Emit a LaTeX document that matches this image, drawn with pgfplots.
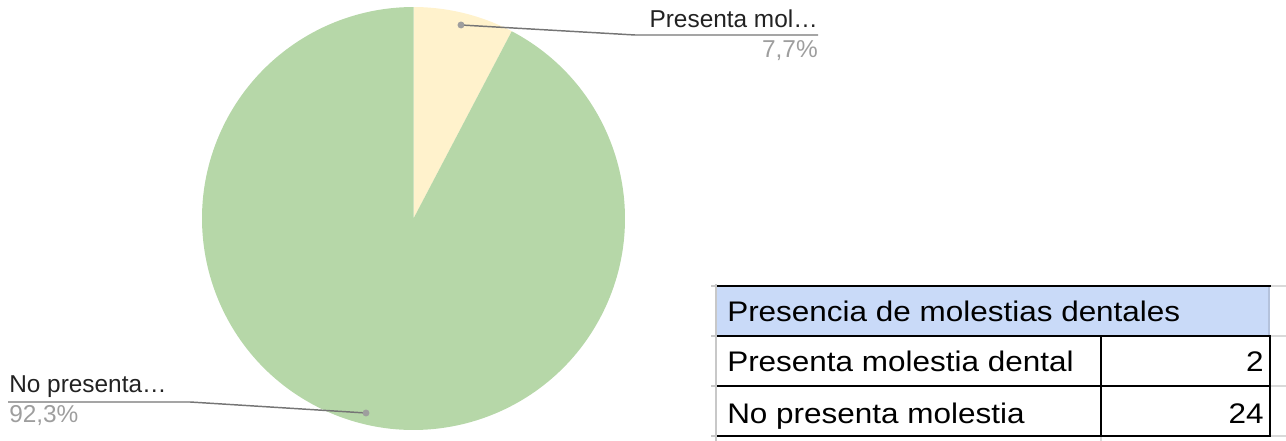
\documentclass[border=0pt]{standalone}
\usepackage{pgfplots}
\pgfplotsset{compat=1.18}
\usepackage{pgfplotstable}
\usepackage{fontspec}
\setmainfont{Liberation Sans}
\definecolor{sliceA}{HTML}{FFF2CC}
\definecolor{sliceB}{HTML}{B6D7A8}
\definecolor{leader}{HTML}{757575}
\definecolor{dotc}{HTML}{9E9E9E}
\definecolor{pct}{HTML}{9E9E9E}
\definecolor{lbl}{HTML}{222222}
\definecolor{hdr}{HTML}{C9DAF8}
\definecolor{hdrline}{HTML}{B4C2DC}
\definecolor{grid}{HTML}{D9D9D9}
\definecolor{lgrid}{HTML}{C8C8C8}
\pgfplotstableread{
label value
Presenta 2
No 24
}\piedata
\newcommand{\tf}[1]{\scalebox{1}[0.9]{#1}}
\begin{document}
\begin{tikzpicture}
\pgfplotstablegetelem{0}{value}\of\piedata \let\va\pgfplotsretval
\pgfplotstablegetelem{1}{value}\of\piedata \let\vb\pgfplotsretval
\pgfmathsetmacro{\tot}{\va+\vb}
\pgfmathsetmacro{\angA}{90-360*\va/\tot}
\pgfmathsetmacro{\angB}{\angA-360*\vb/\tot}
\begin{axis}[x=0.75pt,y=0.75pt,xmin=0,xmax=1286,ymin=0,ymax=441,
  hide axis,clip=false,scale only axis,name=main]
% pie
\fill[sliceA] (axis cs:413.5,222.5) -- ++(90:158.6pt) arc[start angle=90,end angle=\angA,radius=158.6pt] -- cycle;
\fill[sliceB] (axis cs:413.5,222.5) -- ++(\angA:158.6pt) arc[start angle=\angA,end angle=\angB,radius=158.6pt] -- cycle;
% leaders
\draw[leader,line width=1.1pt] (axis cs:461,416) -- (axis cs:635,406) -- (axis cs:818,406);
\fill[dotc] (axis cs:461,416) circle[radius=2.6pt];
\draw[leader,line width=1.1pt] (axis cs:366,28) -- (axis cs:190,39) -- (axis cs:8,39);
\fill[dotc] (axis cs:366,28) circle[radius=2.6pt];
\node[anchor=base east,inner sep=0pt,font=\fontsize{18.3}{22}\selectfont,text=lbl] at (axis cs:818,413) {Presenta mol…};
\node[anchor=base east,inner sep=0pt,font=\fontsize{18.3}{22}\selectfont,text=pct] at (axis cs:818,383) {7,7\%};
\node[anchor=base west,inner sep=0pt,font=\fontsize{18.3}{22}\selectfont,text=lbl] at (axis cs:9,48) {No presenta…};
\node[anchor=base west,inner sep=0pt,font=\fontsize{18.3}{22}\selectfont,text=pct] at (axis cs:9,18) {92,3\%};
% table
\fill[hdr] (axis cs:716,105) rectangle (axis cs:1270,155);
% faint spreadsheet grid
\pgfplotsinvokeforeach{155,105,55,5}{
  \draw[grid,line width=1.5pt] (axis cs:1270,#1) -- (axis cs:1286,#1);
  \draw[lgrid,line width=1.5pt] (axis cs:711,#1) -- (axis cs:716,#1);
}
\draw[grid,line width=1.5pt] (axis cs:1101,0) -- (axis cs:1101,5);
\draw[lgrid,line width=2pt] (axis cs:716,157) -- (axis cs:716,0);
\draw[hdrline,line width=2pt] (axis cs:1269,154) -- (axis cs:1269,105);
% black borders
\draw[black,line width=2pt] (axis cs:717,155) -- (axis cs:1271,155);
\draw[black,line width=2pt] (axis cs:717,105) -- (axis cs:1271,105);
\draw[black,line width=2pt] (axis cs:717,55) -- (axis cs:1271,55);
\draw[black,line width=2pt] (axis cs:717,5) -- (axis cs:1271,5);
\draw[black,line width=2pt] (axis cs:1270,106) -- (axis cs:1270,4);
\draw[black,line width=2pt] (axis cs:1101,105) -- (axis cs:1101,5);
\node[anchor=base west,inner sep=0pt,font=\fontsize{23.6}{28}\selectfont] at (axis cs:727,119) {\tf{Presencia de molestias dentales}};
\node[anchor=base west,inner sep=0pt,font=\fontsize{23.6}{28}\selectfont] at (axis cs:727,69) {\tf{Presenta molestia dental}};
\node[anchor=base west,inner sep=0pt,font=\fontsize{23.6}{28}\selectfont] at (axis cs:727,17) {\tf{No presenta molestia}};
\node[anchor=base east,inner sep=0pt,font=\fontsize{23.6}{28}\selectfont] at (axis cs:1264,69) {\tf{\va}};
\node[anchor=base east,inner sep=0pt,font=\fontsize{23.6}{28}\selectfont] at (axis cs:1264,17) {\tf{\vb}};
\end{axis}
\pgfresetboundingbox
\path[use as bounding box] (main.south west) rectangle (main.north east);
\end{tikzpicture}
\end{document}
